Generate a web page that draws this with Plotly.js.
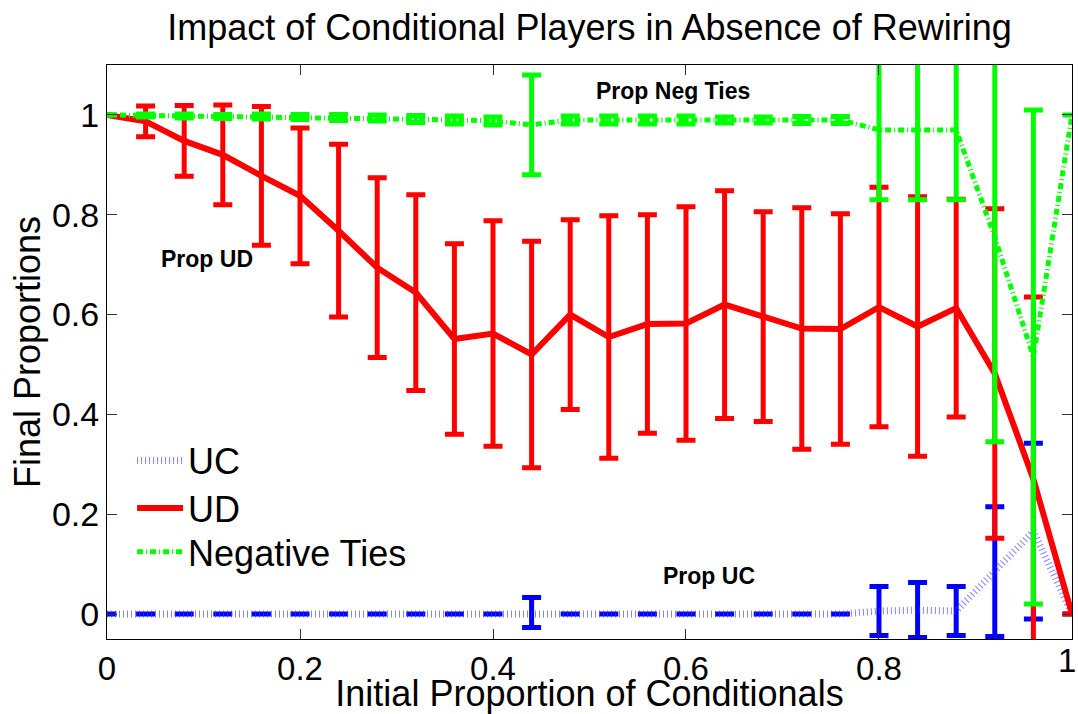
<!DOCTYPE html>
<html>
<head>
<meta charset="utf-8">
<script src="https://cdn.plot.ly/plotly-3.0.1.min.js"></script>
<style>html,body{margin:0;padding:0;background:#fff;}#chart{width:1078px;height:714px;}</style>
</head>
<body>
<div id="chart"></div>
<script>
// Initial proportion of conditionals
var xVals = [0, 0.04, 0.08, 0.12, 0.16, 0.20, 0.24, 0.28, 0.32, 0.36, 0.40, 0.44, 0.48,
             0.52, 0.56, 0.60, 0.64, 0.68, 0.72, 0.76, 0.80, 0.84, 0.88, 0.92, 0.96, 1.00];

// UC (unconditional cooperators)
var ucMean = [0, 0, 0, 0, 0, 0, 0, 0, 0, 0, 0, 0.003, 0,
              0, 0, 0, 0, 0, 0, 0, 0.006, 0.008, 0.006, 0.085, 0.166, 0];
var ucErr  = [0, 0, 0, 0, 0, 0, 0, 0, 0, 0, 0, 0.03, 0,
              0, 0, 0, 0, 0, 0, 0, 0.049, 0.055, 0.049, 0.13, 0.176, 0];

// UD (unconditional defectors)
var udMean = [1.0, 0.987, 0.948, 0.92, 0.878, 0.838, 0.768, 0.694, 0.644, 0.551, 0.562, 0.52, 0.6,
              0.555, 0.581, 0.582, 0.62, 0.596, 0.572, 0.571, 0.615, 0.576, 0.613, 0.482, 0.27, 0];
var udErr  = [0, 0.031, 0.071, 0.1, 0.139, 0.136, 0.173, 0.18, 0.196, 0.191, 0.226, 0.227, 0.19,
              0.243, 0.219, 0.234, 0.228, 0.21, 0.242, 0.231, 0.24, 0.26, 0.218, 0.33, 0.365, 0];

// Negative ties
var ntMean = [1.0, 0.999, 0.998, 0.997, 0.997, 0.996, 0.995, 0.994, 0.992, 0.99, 0.988, 0.98, 0.99,
              0.99, 0.99, 0.99, 0.99, 0.99, 0.99, 0.99, 0.97, 0.97, 0.97, 0.755, 0.515, 1.0];
var ntErr  = [0, 0.003, 0.004, 0.004, 0.005, 0.005, 0.006, 0.006, 0.007, 0.008, 0.008, 0.1, 0.008,
              0.008, 0.008, 0.008, 0.006, 0.006, 0.007, 0.007, 0.14, 0.14, 0.14, 0.41, 0.495, 0];

var seriesNames = ['UC', 'UD', 'Negative Ties'];
// the last x tick label ("1") sits at the right edge; it is drawn as an annotation aligned to the edge
var xTickVals = [0, 0.2, 0.4, 0.6, 0.8, 1];
var xTickText = ['0', '0.2', '0.4', '0.6', '0.8', ''];
var xEdgeLabel = '1';
var yTickVals = [0, 0.2, 0.4, 0.6, 0.8, 1];
var yTickText = ['0', '0.2', '0.4', '0.6', '0.8', '1'];

var FONT = 'Liberation Sans, Arial, Helvetica, sans-serif';

var traces = [
  {
    x: xVals, y: ucMean, name: seriesNames[0], type: 'scatter', mode: 'lines', legend: 'legend',
    line: {color: 'rgba(50,50,255,0.6)', width: 7, dash: '1px,3px'},
    error_y: {type: 'data', array: ucErr, symmetric: true, visible: true,
              color: '#0000ff', thickness: 5, width: 9.5}
  },
  {
    x: xVals, y: udMean, name: seriesNames[1], type: 'scatter', mode: 'lines', legend: 'legend2',
    line: {color: '#ff0000', width: 6},
    error_y: {type: 'data', array: udErr, symmetric: true, visible: true,
              color: '#ff0000', thickness: 5, width: 9.5}
  },
  {
    x: xVals, y: ntMean, name: seriesNames[2], type: 'scatter', mode: 'lines', legend: 'legend3',
    line: {color: '#00ff00', width: 5, dash: '6px,3px,1px,3px'},
    error_y: {type: 'data', array: ntErr, symmetric: true, visible: true,
              color: '#00ff00', thickness: 5, width: 9.5}
  }
];

function legendAt(yPaper) {
  return {
    x: 0.026, xanchor: 'left', y: yPaper, yanchor: 'middle',
    bgcolor: 'rgba(0,0,0,0)', borderwidth: 0,
    font: {family: FONT, size: 36, color: '#000'},
    itemwidth: 46
  };
}

var layout = {
  width: 1078, height: 714,
  paper_bgcolor: '#ffffff', plot_bgcolor: '#ffffff',
  margin: {l: 107, r: 6, t: 65, b: 75, pad: 0},
  font: {family: FONT, size: 34, color: '#000'},
  title: {
    text: 'Impact of Conditional Players in Absence of Rewiring',
    font: {family: FONT, size: 36, color: '#000'},
    x: 0.5, xref: 'paper', xanchor: 'center',
    y: 0.961, yref: 'container', yanchor: 'middle'
  },
  xaxis: {
    range: [0, 1.00001], tickmode: 'array', tickvals: xTickVals, ticktext: xTickText,
    ticks: 'inside', ticklen: 10, tickwidth: 1, tickcolor: '#333',
    showline: true, linecolor: '#000', linewidth: 1, mirror: 'ticks',
    showgrid: false, zeroline: false,
    tickfont: {family: FONT, size: 33, color: '#000'},
    automargin: false,
    title: {text: 'Initial Proportion of Conditionals', font: {family: FONT, size: 36, color: '#000'}, standoff: 3}
  },
  yaxis: {
    range: [-0.05, 1.1], tickmode: 'array', tickvals: yTickVals, ticktext: yTickText,
    ticks: 'inside', ticklen: 10, tickwidth: 1, tickcolor: '#333',
    showline: true, linecolor: '#000', linewidth: 1, mirror: 'ticks',
    showgrid: false, zeroline: false,
    tickfont: {family: FONT, size: 34, color: '#000'},
    automargin: false,
    title: {text: 'Final Proportions', font: {family: FONT, size: 36, color: '#000'}, standoff: 0}
  },
  legend: legendAt(0.311),
  legend2: legendAt(0.228),
  legend3: legendAt(0.152),
  showlegend: true,
  annotations: [
    {x: 0.104, y: 0.712, xref: 'x', yref: 'y', text: '<b>Prop UD</b>', showarrow: false,
     font: {family: FONT, size: 23, color: '#000'}, xanchor: 'center', yanchor: 'middle'},
    {x: 0.587, y: 1.048, xref: 'x', yref: 'y', text: '<b>Prop Neg Ties</b>', showarrow: false,
     font: {family: FONT, size: 23, color: '#000'}, xanchor: 'center', yanchor: 'middle'},
    {x: 0.624, y: 0.076, xref: 'x', yref: 'y', text: '<b>Prop UC</b>', showarrow: false,
     font: {family: FONT, size: 23, color: '#000'}, xanchor: 'center', yanchor: 'middle'},
    {x: xTickVals[xTickVals.length - 1], y: 0, xref: 'x', yref: 'paper', text: xEdgeLabel,
     showarrow: false, font: {family: FONT, size: 33, color: '#000'},
     xanchor: 'right', yanchor: 'top', xshift: 5, yshift: -2, borderpad: 0}
  ]
};

Plotly.newPlot('chart', traces, layout, {displayModeBar: false, staticPlot: true});
</script>
</body>
</html>
